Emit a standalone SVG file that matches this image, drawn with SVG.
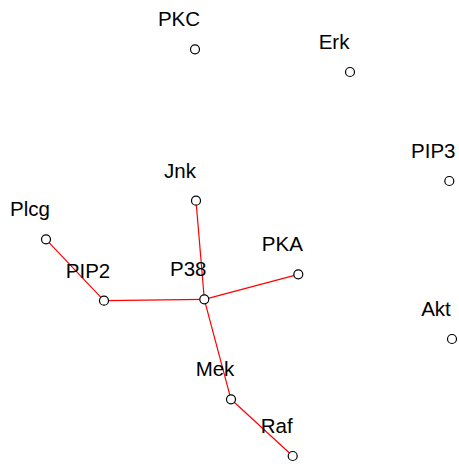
<svg xmlns="http://www.w3.org/2000/svg" width="459" height="464" viewBox="0 0 459 464">
<style>
.n{fill:#fff;stroke:#000;stroke-width:1.2}
.l{font-family:"Liberation Sans",Arial,sans-serif;font-size:20.5px;fill:#000;text-anchor:middle}
.e{stroke:#f00;stroke-width:1.2;fill:none}
</style>
<rect width="459" height="464" fill="#fff"/>
<g id="edges">
<line class="e" x1="46" y1="239.3" x2="104" y2="300.7"/>
<line class="e" x1="104" y1="300.7" x2="204.3" y2="299.3"/>
<line class="e" x1="196" y1="200.7" x2="204.3" y2="299.3"/>
<line class="e" x1="204.3" y1="299.3" x2="298.3" y2="274.3"/>
<line class="e" x1="204.3" y1="299.3" x2="231" y2="399.3"/>
<line class="e" x1="231" y1="399.3" x2="292.7" y2="456"/>
</g>
<g id="PKC"><circle class="n" cx="195" cy="49.3" r="4.5"/><text class="l" x="179" y="26.3">PKC</text></g>
<g id="Erk"><circle class="n" cx="350" cy="72" r="4.5"/><text class="l" x="334" y="49">Erk</text></g>
<g id="PIP3"><circle class="n" cx="449.3" cy="181" r="4.5"/><text class="l" x="433.3" y="158">PIP3</text></g>
<g id="Jnk"><circle class="n" cx="196" cy="200.7" r="4.5"/><text class="l" x="180" y="177.7">Jnk</text></g>
<g id="Plcg"><circle class="n" cx="46" cy="239.3" r="4.5"/><text class="l" x="30" y="216.3">Plcg</text></g>
<g id="PKA"><circle class="n" cx="298.3" cy="274.3" r="4.5"/><text class="l" x="282.3" y="251.3">PKA</text></g>
<g id="PIP2"><circle class="n" cx="104" cy="300.7" r="4.5"/><text class="l" x="88" y="277.7">PIP2</text></g>
<g id="P38"><circle class="n" cx="204.3" cy="299.3" r="4.5"/><text class="l" x="188.3" y="276.3">P38</text></g>
<g id="Akt"><circle class="n" cx="452" cy="339" r="4.5"/><text class="l" x="436" y="316">Akt</text></g>
<g id="Mek"><circle class="n" cx="231" cy="399.3" r="4.5"/><text class="l" x="215" y="376.3">Mek</text></g>
<g id="Raf"><circle class="n" cx="292.7" cy="456" r="4.5"/><text class="l" x="276.7" y="433">Raf</text></g>
</svg>
